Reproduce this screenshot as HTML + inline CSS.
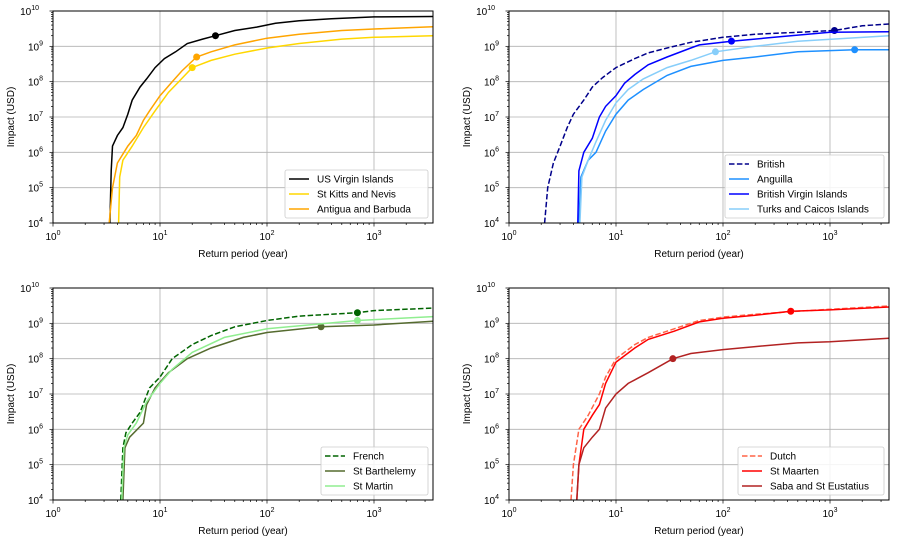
<!DOCTYPE html>
<html><head><meta charset="utf-8"><style>
html,body{margin:0;padding:0;background:#fff;}
svg{display:block;font-family:"Liberation Sans","DejaVu Sans",sans-serif;}
</style></head><body>
<svg id="fig" width="898" height="543" viewBox="0 0 898 543" xmlns="http://www.w3.org/2000/svg"></svg>
<script>
// ---- data: return periods (years) and impacts (USD) ----
const xTickExps = [0, 1, 2, 3];
const yTickExps = [4, 5, 6, 7, 8, 9, 10];

const usviRP = [3.4,3.5,3.6,4,4.5,5,5.5,6.5,7.5,9,11,14,18,25,33,50,80,120,200,400,1000,3550];
const usviImp = [1e4,3e5,1.5e6,3e6,5e6,1.2e7,3e7,7e7,1.2e8,2.5e8,4.5e8,7e8,1.2e9,1.6e9,2e9,2.8e9,3.5e9,4.5e9,5.3e9,6e9,6.8e9,7e9];
const kittsRP = [4.1,4.2,4.5,5.5,7,9,12,15,20,30,50,100,200,500,1000,3550];
const kittsImp = [1e4,2e5,6e5,1.5e6,5e6,1.5e7,5e7,1e8,2.5e8,4e8,6e8,9e8,1.2e9,1.6e9,1.8e9,2e9];
const antiguaRP = [3.35,3.6,4,5,6,7,8,10,13,16,22,30,50,100,200,500,1000,3550];
const antiguaImp = [1e4,1e5,5e5,1.5e6,3e6,8e6,1.5e7,4e7,1e8,2e8,5e8,7e8,1.1e9,1.7e9,2.2e9,2.8e9,3.1e9,3.6e9];

const britishRP = [2.15,2.3,2.6,3,3.5,4,5,6,7.5,10,15,20,30,50,100,200,500,1100,2000,3550];
const britishImp = [1e4,1e5,5e5,1.5e6,5e6,1.2e7,3e7,7e7,1.3e8,2.5e8,4.5e8,6.5e8,9e8,1.3e9,1.8e9,2.2e9,2.5e9,2.8e9,3.8e9,4.3e9];
const anguillaRP = [4.5,4.7,5.5,6.5,8,10,13,18,30,50,100,200,500,1700,3550];
const anguillaImp = [1e4,2e5,6e5,1e6,4e6,1.2e7,3e7,6e7,1.5e8,2.7e8,4e8,5e8,7e8,8e8,8e8];
const bviRP = [4.4,4.5,5,6,7,8,10,12,15,20,30,50,60,120,300,1000,3550];
const bviImp = [1e4,3e5,1e6,2.5e6,1e7,2e7,4e7,9e7,1.6e8,3e8,5e8,9e8,1.1e9,1.4e9,1.8e9,2.5e9,2.6e9];
const turksRP = [4.6,4.8,5.5,6.5,8,10,13,18,30,50,85,200,500,3550];
const turksImp = [1e4,2e5,6e5,2e6,8e6,2.5e7,6e7,1.2e8,2.5e8,4e8,7e8,1e9,1.4e9,2e9];

const frenchRP = [4.3,4.5,4.8,5.5,6.5,8,10,13,20,30,50,100,200,700,1000,3550];
const frenchImp = [1e4,3e5,8e5,1.5e6,3e6,1.5e7,3e7,1e8,2.5e8,4.5e8,8e8,1.2e9,1.6e9,2e9,2.3e9,2.7e9];
const barthRP = [4.5,4.7,5.2,7,7.5,9,12,18,30,60,100,320,1000,3550];
const barthImp = [1e4,3e5,6e5,1.5e6,5e6,1.5e7,4e7,1e8,2e8,4e8,5.5e8,8e8,9e8,1.15e9];
const martinRP = [4.4,4.6,5,6,7.5,10,13,20,40,100,700,3550];
const martinImp = [1e4,3e5,7e5,1.5e6,6e6,2e7,5e7,1.5e8,4e8,7e8,1.2e9,1.55e9];

const dutchRP = [3.8,4,4.5,5.5,7,8,10,15,20,35,60,100,200,500,1000,3550];
const dutchImp = [1e4,1e5,1e6,2.5e6,1e7,3e7,1e8,2.5e8,4e8,7e8,1.2e9,1.5e9,1.8e9,2.2e9,2.5e9,3.1e9];
const maartenRP = [4.3,4.5,5,6,7,8,10,15,20,35,60,100,200,430,1000,3550];
const maartenImp = [1e4,1e5,1e6,2.5e6,5e6,2e7,8e7,2e8,3.5e8,6e8,1.1e9,1.4e9,1.7e9,2.2e9,2.4e9,2.9e9];
const sabaRP = [4.3,4.5,5,6,7,8,10,13,20,34,50,100,200,500,1000,3550];
const sabaImp = [1e4,1e5,3e5,6e5,1e6,4e6,1e7,2e7,4e7,1e8,1.4e8,1.8e8,2.2e8,2.8e8,3e8,3.8e8];

const panels = [
  {name:'us-panel', L:53, T:11, legend:{x:285,y:170,w:143},
   series:[
    {label:'US Virgin Islands', key:'us-virgin-islands', rp:usviRP, imp:usviImp, color:'#000000', dash:false, mk:[33,2e9]},
    {label:'St Kitts and Nevis', key:'st-kitts-and-nevis', rp:kittsRP, imp:kittsImp, color:'#ffd700', dash:false, mk:[20,2.5e8]},
    {label:'Antigua and Barbuda', key:'antigua-and-barbuda', rp:antiguaRP, imp:antiguaImp, color:'#ffa500', dash:false, mk:[22,5e8]}
   ]},
  {name:'british-panel', L:509, T:11, legend:{x:725,y:155,w:159},
   series:[
    {label:'British', key:'british', rp:britishRP, imp:britishImp, color:'#00008b', dash:true, mk:[1100,2.8e9]},
    {label:'Anguilla', key:'anguilla', rp:anguillaRP, imp:anguillaImp, color:'#1e90ff', dash:false, mk:[1700,8e8]},
    {label:'British Virgin Islands', key:'british-virgin-islands', rp:bviRP, imp:bviImp, color:'#0000ff', dash:false, mk:[120,1.4e9]},
    {label:'Turks and Caicos Islands', key:'turks-and-caicos-islands', rp:turksRP, imp:turksImp, color:'#87cefa', dash:false, mk:[85,7e8]}
   ]},
  {name:'french-panel', L:53, T:288, legend:{x:321,y:447,w:107},
   series:[
    {label:'French', key:'french', rp:frenchRP, imp:frenchImp, color:'#006400', dash:true, mk:[700,2e9]},
    {label:'St Barthelemy', key:'st-barthelemy', rp:barthRP, imp:barthImp, color:'#556b2f', dash:false, mk:[320,8e8]},
    {label:'St Martin', key:'st-martin', rp:martinRP, imp:martinImp, color:'#90ee90', dash:false, mk:[700,1.2e9]}
   ]},
  {name:'dutch-panel', L:509, T:288, legend:{x:738,y:447,w:146},
   series:[
    {label:'Dutch', key:'dutch', rp:dutchRP, imp:dutchImp, color:'#ff6347', dash:true, mk:null},
    {label:'St Maarten', key:'st-maarten', rp:maartenRP, imp:maartenImp, color:'#ff0000', dash:false, mk:[430,2.2e9]},
    {label:'Saba and St Eustatius', key:'saba-and-st-eustatius', rp:sabaRP, imp:sabaImp, color:'#b22222', dash:false, mk:[34,1e8]}
   ]}
];

const W = 380, H = 212, PXDEC = 107, YMIN = 4, YMAX = 10;
const NS = 'http://www.w3.org/2000/svg';
const fig = document.getElementById('fig');
function mk(tag, attrs, parent){ const e=document.createElementNS(NS,tag); for(const k in attrs) e.setAttribute(k,attrs[k]); (parent||fig).appendChild(e); return e; }

panels.forEach(p=>{
  const xs = v => p.L + Math.log10(v)*PXDEC;
  const ys = v => p.T + H - (Math.log10(v)-YMIN)/(YMAX-YMIN)*H;
  const g = mk('g',{});
  
  
  xTickExps.forEach(e=>{ const x=xs(Math.pow(10,e)); const l=mk('line',{x1:x,x2:x,y1:p.T,y2:p.T+H,stroke:'#b0b0b0','stroke-width':0.8},g);
      });
  yTickExps.forEach(e=>{ const y=ys(Math.pow(10,e)); const l=mk('line',{x1:p.L,x2:p.L+W,y1:y,y2:y,stroke:'#b0b0b0','stroke-width':0.8},g);
      });
  const cid='clip-'+p.name;
  const cp=mk('clipPath',{id:cid},g); mk('rect',{x:p.L,y:p.T,width:W,height:H},cp);
  const sg=mk('g',{'clip-path':'url(#'+cid+')'},g);
  p.series.forEach(s=>{
    const d = s.rp.map((r,i)=>(i?'L':'M')+xs(r).toFixed(1)+' '+ys(s.imp[i]).toFixed(1)).join(' ');
    const path=mk('path',{d:d,fill:'none',stroke:s.color,'stroke-width':1.5,'stroke-dasharray':s.dash?'5.5,2.4':'none'},sg);
    
    
    if(s.mk){ const c=mk('circle',{cx:xs(s.mk[0]),cy:ys(s.mk[1]),r:3.5,fill:s.color},sg);
      
       }
  });
  const fr=mk('rect',{x:p.L,y:p.T,width:W,height:H,fill:'none',stroke:'#000','stroke-width':1},g);
   
  for(let e=0;e<=3;e++){ for(let m=1;m<10;m++){ const x=xs(m*Math.pow(10,e)); if(x>p.L+W) break;
    mk('line',{x1:x,x2:x,y1:p.T+H,y2:p.T+H+(m==1?3.5:2),stroke:'#000','stroke-width':0.7},g); } }
  xTickExps.forEach(e=>{ const t=mk('text',{x:xs(Math.pow(10,e)),y:p.T+H+17,'font-size':10,'text-anchor':'middle',fill:'#000'},g);
     
    t.innerHTML='10<tspan dy="-5" font-size="7">'+e+'</tspan>'; });
  for(let e=YMIN;e<YMAX;e++){ for(let m=1;m<10;m++){ const y=ys(m*Math.pow(10,e));
    mk('line',{x1:p.L-(m==1?3.5:2),x2:p.L,y1:y,y2:y,stroke:'#000','stroke-width':0.7},g); } }
  mk('line',{x1:p.L-3.5,x2:p.L,y1:p.T,y2:p.T,stroke:'#000','stroke-width':0.7},g);
  yTickExps.forEach(e=>{ const t=mk('text',{x:p.L-(e>=10?14:10),y:ys(Math.pow(10,e))+4,'font-size':10,'text-anchor':'end',fill:'#000'},g);
     
    t.innerHTML='10<tspan dy="-5" font-size="7">'+e+'</tspan>'; });
  const xt=mk('text',{x:p.L+W/2,y:p.T+H+34,'font-size':10,'text-anchor':'middle',fill:'#000'},g);
    xt.textContent='Return period (year)';
  const yt=mk('text',{x:0,y:0,'font-size':10,'text-anchor':'middle',fill:'#000',transform:'translate('+(p.L-39)+','+(p.T+H/2)+') rotate(-90)'},g);
    yt.textContent='Impact (USD)';
  const lg=p.legend, lh=3+p.series.length*15;
  const top=p.T+H-5-lh;
  const lgg=mk('g',{},g);  
  mk('rect',{x:lg.x,y:top,width:lg.w,height:lh,rx:2,fill:'#fff','fill-opacity':0.85,stroke:'#ccc','stroke-width':0.8},lgg);
  p.series.forEach((s,i)=>{
    const y=top+9+i*15;
    const en=mk('g',{},lgg);  
    mk('line',{x1:lg.x+4,x2:lg.x+24,y1:y,y2:y,stroke:s.color,'stroke-width':1.5,'stroke-dasharray':s.dash?'5.5,2.4':'none'},en);
    const t=mk('text',{x:lg.x+32,y:y+3.5,'font-size':10,fill:'#000'},en); t.textContent=s.label;
  });
});
</script>
</body></html>
